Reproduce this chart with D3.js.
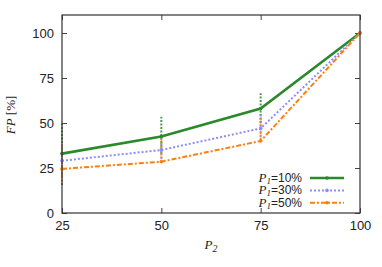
<!DOCTYPE html>
<meta charset="utf-8">
<head>
<style>
body { margin: 0; background: #fff; }
.axis text { font: 13px "Liberation Sans", Arial, sans-serif; fill: #222; }
.lbl { font: italic 13px "Liberation Serif", "Times New Roman", serif; fill: #222; }
.leg { font: 12px "Liberation Sans", Arial, sans-serif; fill: #222; }
</style>
</head>
<body>
<script src="https://cdn.jsdelivr.net/npm/d3@7/dist/d3.min.js"></script>
<script>

var xValues = [25, 50, 75, 100];
var xTicks = [25, 50, 75, 100];
var yTicks = [0, 25, 50, 75, 100];

var seriesNames = ["10%", "30%", "50%"];
var green = [33, 42.5, 58, 100];
var blue = [29, 35, 47, 100];
var orange = [24.5, 28.5, 40, 100];
// error bar low / high
var greenLow = [15.5, 33, 50, 100], greenHigh = [50.7, 53.5, 66.5, 100];
var blueLow = [20, 30, 42, 100], blueHigh = [38, 40, 55, 100];
var orangeLow = [17.4, 28.5, 40.5, 100], orangeHigh = [39.6, 41.5, 52.6, 100];

var margin = {top: 15, right: 22, bottom: 54, left: 62},
    width = 382 - margin.left - margin.right,
    height = 267 - margin.top - margin.bottom;

var svg = d3.select("body").append("svg")
    .attr("width", 382)
    .attr("height", 267)
    .append("g")
    .attr("transform", "translate(" + margin.left + "," + margin.top + ")");

var x = d3.scaleLinear().domain([25, 100]).range([0, width]);
var y = d3.scaleLinear().domain([0, 110]).range([height, 0]);

var series = [
    {name: seriesNames[0], vals: green, lo: greenLow, hi: greenHigh, color: "#2a8a2a", w: 2.6, dash: null},
    {name: seriesNames[1], vals: blue, lo: blueLow, hi: blueHigh, color: "#8c8cff", w: 2, dash: "2,2"},
    {name: seriesNames[2], vals: orange, lo: orangeLow, hi: orangeHigh, color: "#ff7f0e", w: 2, dash: "5,2,2,2"}
];

// axes with inward ticks, mirrored
svg.append("g").attr("class", "axis")
    .attr("transform", "translate(0," + height + ")")
    .call(d3.axisBottom(x).tickValues(xTicks).tickSize(-5).tickPadding(8));
svg.append("g").attr("class", "axis")
    .call(d3.axisLeft(y).tickValues(yTicks).tickSize(-5).tickPadding(8));
svg.append("g").attr("class", "axis")
    .attr("transform", "translate(" + width + ",0)")
    .call(d3.axisRight(y).tickValues(yTicks).tickSize(-5).tickFormat(""));
svg.append("g").attr("class", "axis")
    .call(d3.axisTop(x).tickValues(xTicks).tickSize(-5).tickFormat(""));

svg.selectAll(".axis path").remove();
svg.selectAll(".axis line").attr("stroke", "#444");

var line = d3.line()
    .x(function(d, i) { return x(xValues[i]); })
    .y(function(d) { return y(d); });

series.forEach(function(s) {
    // error bars
    svg.selectAll(null)
        .data(s.vals.slice(0, 3))
        .enter().append("line")
        .attr("x1", function(d, i) { return x(xValues[i]); })
        .attr("x2", function(d, i) { return x(xValues[i]); })
        .attr("y1", function(d, i) { return y(s.lo[i]); })
        .attr("y2", function(d, i) { return y(s.hi[i]); })
        .attr("stroke", s.color)
        .attr("stroke-width", 2)
        .attr("stroke-dasharray", "2,1.5")
        .attr("opacity", 0.85);
});

series.forEach(function(s) {
    svg.append("path")
        .datum(s.vals)
        .attr("fill", "none")
        .attr("stroke", s.color)
        .attr("stroke-width", s.w)
        .attr("stroke-dasharray", s.dash)
        .attr("d", line);
    svg.selectAll(null)
        .data(s.vals)
        .enter().append("circle")
        .attr("cx", function(d, i) { return x(xValues[i]); })
        .attr("cy", function(d) { return y(d); })
        .attr("r", 1.8)
        .attr("fill", s.color);
});

// frame
svg.append("rect")
    .attr("width", width).attr("height", height)
    .attr("fill", "none").attr("stroke", "#333").attr("stroke-width", 1.2);

// legend
var leg = svg.append("g").attr("transform", "translate(" + (width - 16) + "," + (height - 35) + ")");
series.forEach(function(s, i) {
    var g = leg.append("g").attr("transform", "translate(0," + (i * 12.4) + ")");
    var t = g.append("text").attr("class", "leg").attr("x", -42).attr("y", 4)
        .attr("text-anchor", "end");
    t.append("tspan").style("font-style", "italic").style("font-size", "13px")
        .style("font-family", "Liberation Serif, serif").text("P");
    t.append("tspan").attr("dy", 2).style("font-size", "9px").style("font-style", "italic")
        .style("font-family", "Liberation Serif, serif").text("1");
    t.append("tspan").attr("dy", -2).text("=" + s.name);
    g.append("line").attr("x1", -34).attr("x2", 0).attr("y1", 0).attr("y2", 0)
        .attr("stroke", s.color).attr("stroke-width", s.w).attr("stroke-dasharray", s.dash);
    g.append("circle").attr("cx", -17).attr("cy", 0).attr("r", 1.8).attr("fill", s.color);
});

// axis labels
var yl = svg.append("text").attr("class", "lbl")
    .attr("transform", "translate(-47," + (height / 2 + 1) + ") rotate(-90)")
    .attr("text-anchor", "middle");
yl.append("tspan").text("FP");
yl.append("tspan").style("font-style", "normal").text(" [%]");

var xl = svg.append("text").attr("class", "lbl")
    .attr("x", width / 2).attr("y", height + 36).attr("text-anchor", "middle");
xl.append("tspan").text("P");
xl.append("tspan").attr("dy", 3).style("font-size", "10px").text("2");

</script>
</body>
